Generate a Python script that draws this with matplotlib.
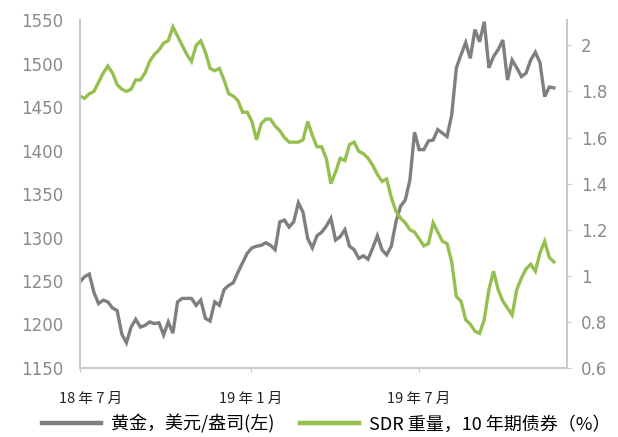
import numpy as np
import pandas as pd
import matplotlib
matplotlib.use('Agg')
from matplotlib import pyplot as plt
from matplotlib.lines import Line2D
from matplotlib.transforms import ScaledTranslation

plt.rcParams['font.family'] = ['DejaVu Sans', 'Noto Sans CJK SC']

# 每 5 天取一个点，2018-07-01 起
dates = pd.date_range('2018-07-01', periods=103, freq='5D')

# 黄金，美元/盎司（左轴）
gold = [1249, 1255, 1258, 1237, 1224, 1228, 1226, 1219, 1216, 1189,
        1179, 1197, 1206, 1197, 1199, 1203, 1201, 1202, 1188, 1203,
        1190, 1226, 1230, 1230, 1230, 1222, 1228, 1207, 1204, 1226,
        1222, 1240, 1245, 1248, 1260, 1271, 1282, 1288, 1290, 1291,
        1294, 1291, 1286, 1318, 1320, 1312, 1318, 1340, 1329, 1299,
        1288, 1302, 1306, 1313, 1322, 1297, 1301, 1309, 1290, 1286,
        1276, 1279, 1275, 1288, 1302, 1286, 1280, 1290, 1318, 1336,
        1343, 1366, 1421, 1401, 1401, 1411, 1412, 1424, 1420, 1416,
        1441, 1495, 1510, 1524, 1506, 1539, 1525, 1548, 1495, 1508,
        1516, 1527, 1481, 1504, 1495, 1485, 1489, 1504, 1513, 1501,
        1462, 1473, 1472]

# SDR 重量，10 年期债券收益率 %（右轴）
bond = [1.78, 1.77, 1.79, 1.80, 1.84, 1.88, 1.91, 1.88, 1.83, 1.81,
        1.80, 1.81, 1.85, 1.85, 1.88, 1.93, 1.96, 1.98, 2.01, 2.02,
        2.08, 2.04, 2.00, 1.96, 1.93, 2.00, 2.02, 1.97, 1.90, 1.89,
        1.90, 1.85, 1.79, 1.78, 1.76, 1.71, 1.71, 1.67, 1.59, 1.66,
        1.68, 1.68, 1.65, 1.63, 1.60, 1.58, 1.58, 1.58, 1.59, 1.67,
        1.61, 1.56, 1.56, 1.51, 1.40, 1.45, 1.51, 1.50, 1.57, 1.58,
        1.54, 1.53, 1.51, 1.48, 1.44, 1.41, 1.42, 1.34, 1.28, 1.25,
        1.23, 1.20, 1.19, 1.16, 1.13, 1.14, 1.23, 1.19, 1.15, 1.14,
        1.06, 0.91, 0.89, 0.81, 0.79, 0.76, 0.75, 0.81, 0.94, 1.02,
        0.94, 0.89, 0.86, 0.83, 0.94, 0.99, 1.03, 1.05, 1.02, 1.10,
        1.15, 1.08, 1.06]

tick_dates = pd.to_datetime(['2018-07-01', '2019-01-01', '2019-07-01'])
tick_labels = ['18 年 7 月', '19 年 1 月', '19 年 7 月']

gray = '#7f7f7f'
green = '#94c04f'
spine_c = '#c8c8c8'
num_c = '#8a8a8a'
cjk = ['Noto Sans CJK SC', 'DejaVu Sans']

fig = plt.figure(figsize=(6.18, 4.37), dpi=100)
ax = fig.add_axes([0.1294, 0.1579, 0.7880, 0.7963])
ax2 = ax.twinx()

ax.plot(dates, gold, color=gray, lw=2.4, solid_joinstyle='miter')
ax2.plot(dates, bond, color=green, lw=2.4, solid_joinstyle='miter')

ax.set_xlim(pd.Timestamp('2018-07-01'), pd.Timestamp('2019-12-07'))
ax.set_ylim(1150, 1550)
ax.set_yticks(np.arange(1150, 1551, 50))
ax2.set_ylim(0.6, 2.11)
ax2.set_yticks([0.6, 0.8, 1.0, 1.2, 1.4, 1.6, 1.8, 2.0])
ax2.set_yticklabels(['0.6', '0.8', '1', '1.2', '1.4', '1.6', '1.8', '2'])

ax.set_xticks(tick_dates)
ax.set_xticklabels(tick_labels, family=cjk, fontsize=10.5, color='#222222')

for a in (ax, ax2):
    a.spines['top'].set_visible(False)
    for s in ('left', 'right', 'bottom'):
        a.spines[s].set_color(spine_c)
        a.spines[s].set_linewidth(1.2)
    a.set_facecolor('none')

ax.tick_params(axis='y', length=0, pad=12, labelsize=12, labelcolor=num_c)
ax.tick_params(axis='x', length=3, color=spine_c, pad=14)
ax2.tick_params(axis='y', length=3, color=spine_c, pad=7, labelsize=12,
                labelcolor=num_c)

# 第一个日期标签稍微右移
first = ax.get_xticklabels()[0]
first.set_transform(first.get_transform() +
                    ScaledTranslation(0.11, 0, fig.dpi_scale_trans))

handles = [Line2D([], [], color=gray, lw=3.2),
           Line2D([], [], color=green, lw=3.2)]
fig.legend(handles, ['黄金，美元/盎司(左)', 'SDR 重量，10 年期债券（%）'],
           loc='center', bbox_to_anchor=(0.528, 0.03), ncol=2, frameon=False,
           prop={'family': cjk, 'size': 13},
           handlelength=3.3, handletextpad=0.55, columnspacing=1.4)

plt.savefig('out.png', dpi=100)
